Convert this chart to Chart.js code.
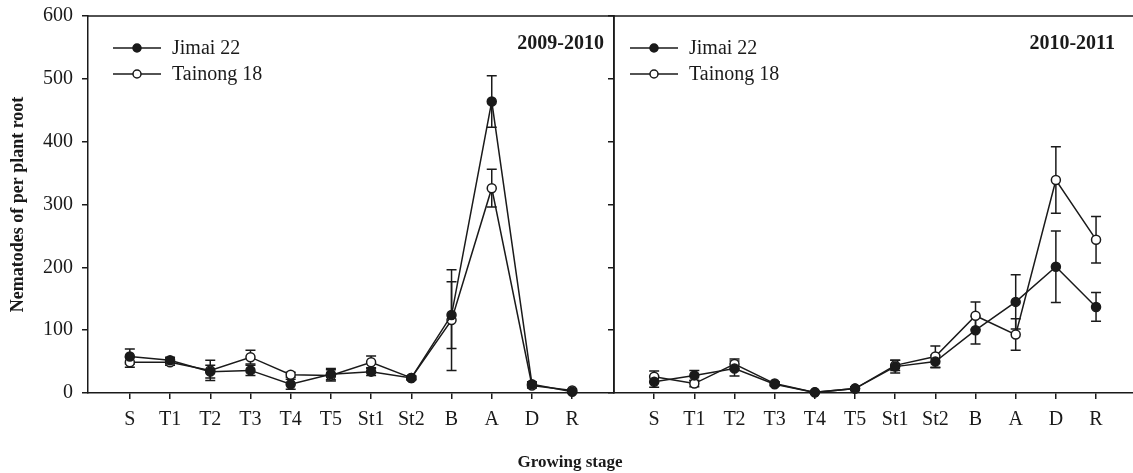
<!DOCTYPE html>
<html>
<head>
<meta charset="utf-8">
<script src="https://cdn.jsdelivr.net/npm/chart.js@4.4.1/dist/chart.umd.min.js"></script>
<style>
  html, body { margin: 0; padding: 0; background: #fff; }
  #wrap { position: relative; width: 1133px; height: 473px; overflow: hidden; }
  #wrap canvas { position: absolute; top: 0; }
  #leftChart { left: 0; }
  #rightChart { left: 600px; }
  #xTitle {
    position: absolute; left: 470px; width: 200px; top: 452px; text-align: center;
    font: bold 17px "Liberation Serif", serif; color: #1a1a1a;
  }
</style>
</head>
<body>
<div id="wrap">
  <canvas id="leftChart" width="620" height="473"></canvas>
  <!-- a bit wider than the window; the overflow is cut off so the axis reaches the edge -->
  <canvas id="rightChart" width="539" height="473"></canvas>
  <div id="xTitle">Growing stage</div>
</div>
<script>
const stages = ['S', 'T1', 'T2', 'T3', 'T4', 'T5', 'St1', 'St2', 'B', 'A', 'D', 'R'];

// 2009-2010
const jimai0910 = [58, 52, 34, 36, 14, 30, 34, 24, 124, 464, 14, 2];
const jimai0910Err = [12, 5, 10, 8, 8, 9, 6, 3, 53, 41, 4, 2];
const tainong0910 = [49, 49, 36, 57, 29, 28, 49, 24, 116, 326, 12, 4];
const tainong0910Err = [8, 5, 16, 11, 4, 9, 10, 3, 80, 30, 4, 2];

// 2010-2011
const jimai1011 = [18, 28, 39, 14, 1, 7, 42, 50, 100, 145, 201, 137];
const jimai1011Err = [9, 8, 12, 3, 1, 2, 10, 10, 22, 43, 57, 23];
const tainong1011 = [26, 15, 46, 15, 1, 7, 44, 58, 123, 93, 339, 244];
const tainong1011Err = [9, 5, 8, 3, 1, 2, 8, 17, 22, 25, 53, 37];

const yTicks = [0, 100, 200, 300, 400, 500, 600];
const seriesNames = ['Jimai 22', 'Tainong 18'];

const INK = '#1a1a1a';
const SERIF = '"Liberation Serif", "DejaVu Serif", serif';

function toPoints(values) {
  return values.map((v, i) => ({ x: i, y: v }));
}

function makeDataset(label, values, errors, filled) {
  return {
    label,
    data: toPoints(values),
    errors,
    borderColor: INK,
    borderWidth: 1.5,
    pointRadius: 4.5,
    pointHoverRadius: 4.5,
    pointBorderWidth: 1.5,
    pointBorderColor: INK,
    pointBackgroundColor: filled ? INK : '#ffffff',
    tension: 0,
    clip: false
  };
}

// error bars, drawn before the lines so the markers sit on top
const errorBars = {
  id: 'errorBars',
  beforeDatasetsDraw(chart) {
    const ctx = chart.ctx;
    const xs = chart.scales.x;
    const ys = chart.scales.y;
    ctx.save();
    ctx.strokeStyle = INK;
    ctx.lineWidth = 1.5;
    chart.data.datasets.forEach((ds) => {
      ds.data.forEach((p, i) => {
        const e = ds.errors[i];
        if (!e) return;
        const x = xs.getPixelForValue(p.x);
        const top = ys.getPixelForValue(p.y + e);
        const bot = ys.getPixelForValue(Math.max(0, p.y - e));
        ctx.beginPath();
        ctx.moveTo(x, top); ctx.lineTo(x, bot);
        ctx.moveTo(x - 5, top); ctx.lineTo(x + 5, top);
        ctx.moveTo(x - 5, bot); ctx.lineTo(x + 5, bot);
        ctx.stroke();
      });
    });
    ctx.restore();
  }
};

// top frame line, right edge for left panel, legend and panel label
const panelDecor = {
  id: 'panelDecor',
  afterDraw(chart, args, opts) {
    const ctx = chart.ctx;
    const a = chart.chartArea;
    ctx.save();
    ctx.strokeStyle = INK;
    ctx.lineWidth = 1.5;
    ctx.beginPath();
    ctx.moveTo(a.left, a.top);
    ctx.lineTo(opts.rightBorder ? a.right : chart.width, a.top);
    if (opts.rightBorder) ctx.lineTo(a.right, a.bottom);
    ctx.stroke();

    ctx.font = '20px ' + SERIF;
    ctx.textBaseline = 'middle';
    ctx.textAlign = 'left';
    chart.data.datasets.forEach((ds, i) => {
      const y = 48 + i * 26;
      const lx = a.left + opts.legendX;
      ctx.beginPath();
      ctx.moveTo(lx, y); ctx.lineTo(lx + 48, y);
      ctx.stroke();
      ctx.beginPath();
      ctx.arc(lx + 24, y, 4, 0, Math.PI * 2);
      ctx.fillStyle = ds.pointBackgroundColor;
      ctx.fill();
      ctx.stroke();
      ctx.fillStyle = INK;
      ctx.fillText(ds.label, lx + 59, y + 1);
    });

    ctx.font = 'bold 20px ' + SERIF;
    ctx.textAlign = 'right';
    ctx.fillText(opts.label, opts.labelRight, 44);
    ctx.restore();
  }
};

function buildOptions(side) {
  const isLeft = side === 'left';
  return {
    responsive: false,
    animation: false,
    events: [],
    layout: { padding: { top: 16, right: isLeft ? 6 : 0, bottom: 0, left: 0 } },
    plugins: {
      legend: { display: false },
      tooltip: { enabled: false },
      panelDecor: isLeft
        ? { rightBorder: true, legendX: 25, label: '2009-2010', labelRight: 604 }
        : { rightBorder: false, legendX: 16, label: '2010-2011', labelRight: 515 }
    },
    scales: {
      x: {
        type: 'linear',
        min: isLeft ? -1.04 : -1,
        max: isLeft ? 12.04 : 11.92,
        afterBuildTicks: (s) => { s.ticks = stages.map((_, i) => ({ value: i })); },
        afterFit: (s) => { s.height = 80; s.paddingLeft = 0; s.paddingRight = 0; },
        ticks: {
          autoSkip: false,
          maxRotation: 0,
          padding: 9,
          color: INK,
          font: { family: SERIF, size: 20 },
          callback: (v) => stages[v]
        },
        grid: { drawOnChartArea: false, drawTicks: true, tickLength: 6, color: INK, lineWidth: 1.5 },
        border: { display: true, color: INK, width: 1.5 }
      },
      y: {
        min: 0,
        max: 600,
        afterBuildTicks: (s) => { s.ticks = yTicks.map((v) => ({ value: v })); },
        afterFit: (s) => { s.width = isLeft ? 88 : 14; s.paddingTop = 0; s.paddingBottom = 0; },
        ticks: {
          display: isLeft,
          padding: 9,
          color: INK,
          font: { family: SERIF, size: 20 }
        },
        title: {
          display: isLeft,
          text: 'Nematodes of per plant root',
          color: INK,
          padding: { top: 8, bottom: 0 },
          font: { family: SERIF, size: 18, weight: 'bold' }
        },
        grid: { drawOnChartArea: false, drawTicks: true, tickLength: 6, color: INK, lineWidth: 1.5 },
        border: { display: true, color: INK, width: 1.5 }
      }
    }
  };
}

new Chart(document.getElementById('leftChart'), {
  type: 'line',
  data: {
    datasets: [
      makeDataset(seriesNames[0], jimai0910, jimai0910Err, true),
      makeDataset(seriesNames[1], tainong0910, tainong0910Err, false)
    ]
  },
  options: buildOptions('left'),
  plugins: [errorBars, panelDecor]
});

new Chart(document.getElementById('rightChart'), {
  type: 'line',
  data: {
    datasets: [
      makeDataset(seriesNames[0], jimai1011, jimai1011Err, true),
      makeDataset(seriesNames[1], tainong1011, tainong1011Err, false)
    ]
  },
  options: buildOptions('right'),
  plugins: [errorBars, panelDecor]
});
</script>
</body>
</html>
